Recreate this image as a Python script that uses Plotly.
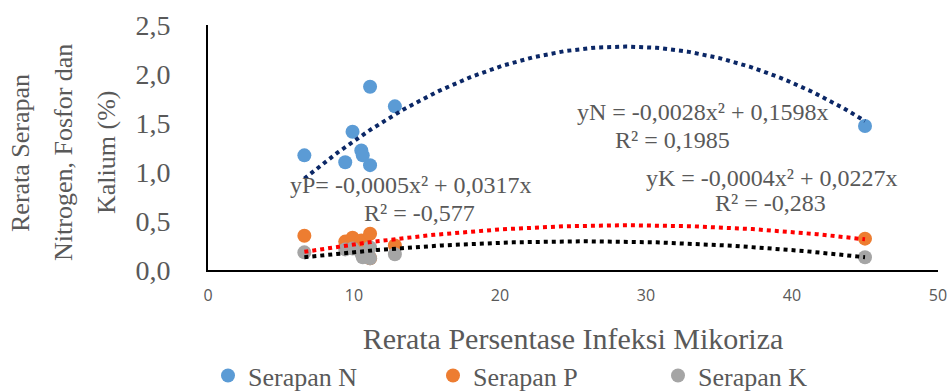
import numpy as np
import plotly.graph_objects as go

# ---- data ----
infeksi = [6.6, 9.4, 9.9, 10.5, 10.6, 11.1, 11.1, 12.8, 45.0]
serapan_n = [1.17, 1.10, 1.41, 1.22, 1.17, 1.87, 1.07, 1.67, 1.47]
serapan_p = [0.35, 0.29, 0.33, 0.30, 0.27, 0.37, 0.12, 0.25, 0.32]
serapan_k = [0.18, 0.21, 0.22, 0.17, 0.13, 0.23, 0.12, 0.16, 0.13]

# trendline coefficients (a, b) for y = a x^2 + b x
trend_n = [-0.0028, 0.1598]
trend_p = [-0.00055, 0.0317]
trend_k = [-0.00044, 0.0227]

eq_n = ["yN = -0,0028x² + 0,1598x", "R² = 0,1985"]
eq_p = ["yP= -0,0005x² + 0,0317x", "R² = -0,577"]
eq_k = ["yK = -0,0004x² + 0,0227x", "R² = -0,283"]

x_ticks = [0, 10, 20, 30, 40, 50]
y_ticks = [0.0, 0.5, 1.0, 1.5, 2.0, 2.5]
y_tick_labels = ["0,0", "0,5", "1,0", "1,5", "2,0", "2,5"]

SERIF = "Liberation Serif, Times New Roman, serif"
GRAY = "#595959"

fig = go.Figure()

for name, vals, col in [("Serapan N", serapan_n, "#5b9bd5"),
                        ("Serapan P", serapan_p, "#ed7d31"),
                        ("Serapan K", serapan_k, "#a5a5a5")]:
    fig.add_trace(go.Scatter(x=infeksi, y=vals, mode="markers", name=name,
                             marker=dict(color=col, size=14)))

xs = np.linspace(min(infeksi), max(infeksi), 200)
for coef, col in [(trend_n, "#0b2766"), (trend_p, "#ff0000"), (trend_k, "#000000")]:
    fig.add_trace(go.Scatter(
        x=xs, y=coef[0] * xs**2 + coef[1] * xs, mode="lines",
        line=dict(color=col, width=4, dash="dot"), showlegend=False, hoverinfo="skip"))

ann = [
    (eq_n[0], 33.9, 1.61), (eq_n[1], 31.8, 1.33),
    (eq_p[0], 13.9, 0.87), (eq_p[1], 14.5, 0.58),
    (eq_k[0], 38.6, 0.94), (eq_k[1], 38.5, 0.68),
]
for txt, ax_, ay_ in ann:
    fig.add_annotation(x=ax_, y=ay_, xref="x", yref="y", text=txt, showarrow=False,
                       font=dict(family=SERIF, size=24, color=GRAY),
                       xanchor="center", yanchor="middle")

# y axis title lines
for txt, px in [("Rerata Serapan", 20), ("Nitrogen, Fosfor dan", 63), ("Kalium (%)", 106)]:
    fig.add_annotation(x=(px - 208) / 730, y=(270 - 153) / 245, xref="paper", yref="paper",
                       text=txt, showarrow=False, textangle=-90,
                       font=dict(family=SERIF, size=26, color=GRAY),
                       xanchor="center", yanchor="middle")

fig.update_layout(
    width=951, height=392,
    margin=dict(l=208, r=13, t=25, b=122, autoexpand=False),
    plot_bgcolor="white", paper_bgcolor="white",
    xaxis=dict(range=[0, 50], tickvals=x_ticks, showgrid=False, zeroline=False,
               showline=True, linecolor="black", linewidth=2, automargin=False,
               tickfont=dict(family="Open Sans, sans-serif", size=16, color=GRAY),
               ticklabelstandoff=10,
               title=dict(text="Rerata Persentase Infeksi Mikoriza",
                          font=dict(family=SERIF, size=30, color=GRAY), standoff=23)),
    yaxis=dict(range=[0, 2.5], tickvals=y_ticks, ticktext=y_tick_labels, showgrid=False,
               zeroline=False, showline=True, linecolor="black", linewidth=2,
               automargin=False,
               tickfont=dict(family=SERIF, size=28, color=GRAY), ticklabelstandoff=30),
    legend=dict(orientation="h", x=0.0, xanchor="left", y=-0.335, yanchor="top",
                font=dict(family=SERIF, size=26, color=GRAY), entrywidth=180,
                bgcolor="rgba(0,0,0,0)", itemwidth=30),
    showlegend=True,
)

fig.write_html("out.html", config={"displayModeBar": False},
               post_script="document.body.style.margin='0px';")
